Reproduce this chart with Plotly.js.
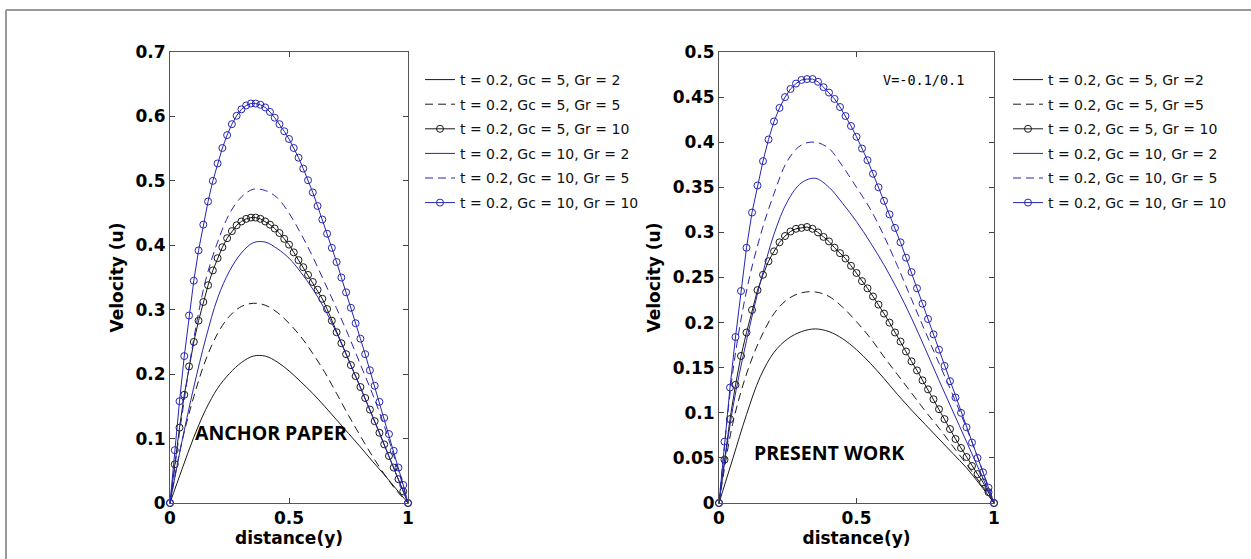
<!DOCTYPE html>
<html>
<head>
<meta charset="utf-8">
<script src="https://cdn.plot.ly/plotly-3.0.1.min.js"></script>
<style>html,body{margin:0;padding:0;background:#fff;}#chart{width:1251px;height:559px;}</style>
</head>
<body>
<div id="chart"></div>
<script>
// x grids (distance y)
const xFine = [0,0.02,0.04,0.06,0.08,0.10,0.12,0.14,0.16,0.18,0.20,0.22,0.24,0.26,0.28,0.30,0.32,0.34,0.36,0.38,0.40,0.42,0.44,0.46,0.48,0.50,0.52,0.54,0.56,0.58,0.60,0.62,0.64,0.66,0.68,0.70,0.72,0.74,0.76,0.78,0.80,0.82,0.84,0.86,0.88,0.90,0.92,0.94,0.96,0.98,1.00];
const xCoarse = [0,0.05,0.10,0.15,0.20,0.25,0.30,0.35,0.40,0.45,0.50,0.55,0.60,0.65,0.70,0.75,0.80,0.85,0.90,0.95,1.00];

// Left panel: ANCHOR PAPER
const leftGc5Gr2 = [0,0.052,0.102,0.145,0.178,0.201,0.218,0.228,0.228,0.219,0.205,0.188,0.170,0.150,0.129,0.108,0.087,0.065,0.044,0.022,0];
const leftGc5Gr5 = [0,0.095,0.165,0.222,0.263,0.290,0.305,0.310,0.307,0.296,0.279,0.258,0.232,0.203,0.170,0.136,0.104,0.073,0.045,0.020,0];
const leftGc5Gr10 = [0,0.060,0.117,0.168,0.212,0.250,0.283,0.312,0.338,0.361,0.380,0.397,0.411,0.422,0.431,0.437,0.441,0.443,0.443,0.441,0.437,0.432,0.426,0.419,0.410,0.401,0.389,0.377,0.366,0.354,0.343,0.331,0.317,0.301,0.283,0.265,0.248,0.231,0.214,0.197,0.180,0.163,0.145,0.127,0.109,0.091,0.073,0.055,0.037,0.018,0];
const leftGc10Gr2 = [0,0.095,0.180,0.255,0.318,0.360,0.388,0.404,0.405,0.395,0.380,0.358,0.332,0.301,0.264,0.222,0.179,0.135,0.090,0.045,0];
const leftGc10Gr5 = [0,0.135,0.255,0.346,0.405,0.449,0.475,0.487,0.485,0.474,0.450,0.418,0.382,0.342,0.302,0.260,0.215,0.170,0.120,0.062,0];
const leftGc10Gr10 = [0,0.082,0.158,0.228,0.291,0.345,0.392,0.432,0.468,0.500,0.527,0.551,0.571,0.588,0.601,0.611,0.617,0.620,0.620,0.618,0.614,0.607,0.598,0.588,0.577,0.565,0.551,0.536,0.519,0.501,0.482,0.461,0.440,0.418,0.396,0.374,0.350,0.327,0.303,0.279,0.255,0.231,0.206,0.182,0.157,0.132,0.107,0.081,0.055,0.028,0];

// Right panel: PRESENT WORK
const rightGc5Gr2 = [0,0.049,0.098,0.140,0.167,0.182,0.190,0.193,0.190,0.182,0.170,0.155,0.138,0.120,0.103,0.087,0.071,0.055,0.039,0.020,0];
const rightGc5Gr5 = [0,0.088,0.143,0.182,0.210,0.226,0.233,0.234,0.229,0.217,0.201,0.183,0.162,0.142,0.122,0.102,0.083,0.063,0.043,0.022,0];
const rightGc5Gr10 = [0,0.048,0.093,0.131,0.163,0.189,0.214,0.236,0.253,0.268,0.279,0.289,0.296,0.301,0.304,0.305,0.306,0.304,0.300,0.295,0.290,0.283,0.277,0.271,0.263,0.255,0.246,0.238,0.229,0.220,0.210,0.200,0.189,0.179,0.168,0.157,0.147,0.136,0.126,0.115,0.104,0.093,0.082,0.071,0.061,0.051,0.041,0.032,0.023,0.012,0];
const rightGc10Gr2 = [0,0.105,0.180,0.244,0.298,0.335,0.355,0.360,0.350,0.332,0.312,0.289,0.264,0.236,0.205,0.171,0.136,0.102,0.068,0.034,0];
const rightGc10Gr5 = [0,0.145,0.235,0.296,0.343,0.380,0.397,0.400,0.393,0.373,0.350,0.326,0.296,0.262,0.226,0.190,0.155,0.120,0.083,0.043,0];
const rightGc10Gr10 = [0,0.068,0.128,0.184,0.235,0.283,0.322,0.352,0.379,0.403,0.423,0.438,0.450,0.459,0.465,0.469,0.470,0.470,0.467,0.461,0.455,0.448,0.439,0.429,0.418,0.406,0.393,0.380,0.365,0.350,0.335,0.320,0.305,0.289,0.272,0.256,0.238,0.221,0.204,0.187,0.170,0.152,0.135,0.117,0.100,0.084,0.067,0.050,0.034,0.017,0];

const leftNames = ["t = 0.2, Gc = 5, Gr = 2","t = 0.2, Gc = 5, Gr = 5","t = 0.2, Gc = 5, Gr = 10","t = 0.2, Gc = 10, Gr = 2","t = 0.2, Gc = 10, Gr = 5","t = 0.2, Gc = 10, Gr = 10"];
const rightNames = ["t = 0.2, Gc = 5, Gr =2","t = 0.2, Gc = 5, Gr =5","t = 0.2, Gc = 5, Gr = 10","t = 0.2, Gc = 10, Gr = 2","t = 0.2, Gc = 10, Gr = 5","t = 0.2, Gc = 10, Gr = 10"];

const BLACK = '#1a1a1a';
const BLUE = '#2626b0';
const DASH = '8px,5px';

function lineTrace(x, y, name, color, dash, xa, ya, leg, grp) {
  return {x: x, y: y, name: name, type: 'scatter', mode: 'lines',
    line: {color: color, width: 1, dash: dash, shape: 'spline', smoothing: 1},
    xaxis: xa, yaxis: ya, legend: leg, legendgroup: grp, hoverinfo: 'skip'};
}
function circTrace(x, y, name, color, xa, ya, leg, grp) {
  return {x: x, y: y, name: name, type: 'scatter', mode: 'lines+markers',
    line: {color: color, width: 1},
    marker: {symbol: 'circle-open', size: 7, color: color, line: {width: 1, color: color}},
    cliponaxis: false,
    xaxis: xa, yaxis: ya, legend: leg, legendgroup: grp, hoverinfo: 'skip'};
}

const data = [
  lineTrace(xCoarse, leftGc5Gr2, leftNames[0], BLACK, 'solid', 'x', 'y', 'legend', 'L1'),
  lineTrace(xCoarse, leftGc5Gr5, leftNames[1], BLACK, DASH, 'x', 'y', 'legend', 'L2'),
  circTrace(xFine, leftGc5Gr10, leftNames[2], BLACK, 'x', 'y', 'legend', 'L3'),
  lineTrace(xCoarse, leftGc10Gr2, leftNames[3], BLUE, 'solid', 'x', 'y', 'legend', 'L4'),
  lineTrace(xCoarse, leftGc10Gr5, leftNames[4], BLUE, DASH, 'x', 'y', 'legend', 'L5'),
  circTrace(xFine, leftGc10Gr10, leftNames[5], BLUE, 'x', 'y', 'legend', 'L6'),
  lineTrace(xCoarse, rightGc5Gr2, rightNames[0], BLACK, 'solid', 'x2', 'y2', 'legend2', 'R1'),
  lineTrace(xCoarse, rightGc5Gr5, rightNames[1], BLACK, DASH, 'x2', 'y2', 'legend2', 'R2'),
  circTrace(xFine, rightGc5Gr10, rightNames[2], BLACK, 'x2', 'y2', 'legend2', 'R3'),
  lineTrace(xCoarse, rightGc10Gr2, rightNames[3], BLUE, 'solid', 'x2', 'y2', 'legend2', 'R4'),
  lineTrace(xCoarse, rightGc10Gr5, rightNames[4], BLUE, DASH, 'x2', 'y2', 'legend2', 'R5'),
  circTrace(xFine, rightGc10Gr10, rightNames[5], BLUE, 'x2', 'y2', 'legend2', 'R6')
];

const W = 1251, H = 559;
const px = v => v / W;
const py = v => (H - v) / H;

const tickFont = {family: 'DejaVu Sans', size: 17, color: '#000', weight: 'bold'};
const titleFont = {family: 'DejaVu Sans', size: 17, color: '#000', weight: 'bold'};

function xAxis(dom, anchor) {
  return {domain: dom, anchor: anchor, range: [0, 1], tickvals: [0, 0.5, 1],
    showline: true, linecolor: '#555', linewidth: 1, mirror: 'ticks',
    ticks: 'inside', ticklen: 5, tickcolor: '#444', showgrid: false, zeroline: false,
    tickfont: tickFont, title: {text: 'distance(y)', font: titleFont, standoff: 1}, fixedrange: true};
}
function yAxis(dom, anchor, max, dt) {
  return {domain: dom, anchor: anchor, range: [0, max], dtick: dt, tick0: 0,
    showline: true, linecolor: '#555', linewidth: 1, mirror: 'ticks',
    ticks: 'inside', ticklen: 5, tickcolor: '#444', showgrid: false, zeroline: false,
    tickfont: tickFont, title: {text: 'Velocity (u)', font: titleFont, standoff: 7}, fixedrange: true};
}

const legendFont = {family: 'DejaVu Sans', size: 14, color: '#111'};

const layout = {
  width: W, height: H,
  margin: {l: 0, r: 0, t: 0, b: 0},
  paper_bgcolor: '#fff', plot_bgcolor: '#fff',
  xaxis: xAxis([px(170), px(408)], 'y'),
  yaxis: yAxis([py(503), py(52)], 'x', 0.7, 0.1),
  xaxis2: xAxis([px(719), px(994)], 'y2'),
  yaxis2: yAxis([py(503), py(52)], 'x2', 0.5, 0.05),
  legend: {x: px(420), y: py(64), xanchor: 'left', yanchor: 'top', font: legendFont,
    bgcolor: 'rgba(0,0,0,0)', borderwidth: 0, tracegroupgap: 3.4, traceorder: 'grouped'},
  legend2: {x: px(1008), y: py(64), xanchor: 'left', yanchor: 'top', font: legendFont,
    bgcolor: 'rgba(0,0,0,0)', borderwidth: 0, tracegroupgap: 3.4, traceorder: 'grouped'},
  annotations: [
    {xref: 'x', yref: 'y', x: 0.097, y: 0.11, xanchor: 'left', yanchor: 'middle', showarrow: false,
     text: 'ANCHOR PAPER', font: {family: 'Open Sans', size: 19.5, color: '#000', weight: 'bold'}},
    {xref: 'x2', yref: 'y2', x: 0.12, y: 0.0565, xanchor: 'left', yanchor: 'middle', showarrow: false,
     text: 'PRESENT WORK', font: {family: 'Open Sans', size: 19.5, color: '#000', weight: 'bold'}},
    {xref: 'x2', yref: 'y2', x: 0.59, y: 0.469, xanchor: 'left', yanchor: 'middle', showarrow: false,
     text: 'V=-0.1/0.1', font: {family: 'DejaVu Sans Mono', size: 13.5, color: '#000'}}
  ],
  shapes: [
    {type: 'line', xref: 'paper', yref: 'paper', x0: px(6), x1: 1, y0: py(10), y1: py(10), line: {color: '#999', width: 2}},
    {type: 'line', xref: 'paper', yref: 'paper', x0: px(6), x1: px(6), y0: 0, y1: py(10), line: {color: '#999', width: 2}}
  ],
  showlegend: true
};

Plotly.newPlot('chart', data, layout, {displayModeBar: false, staticPlot: true});
</script>
</body>
</html>
